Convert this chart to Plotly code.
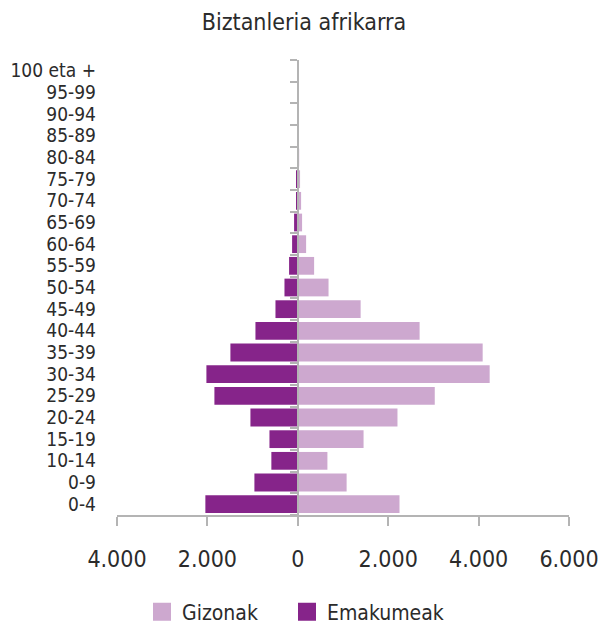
import plotly.graph_objects as go

ages = ["0-4", "0-9", "10-14", "15-19", "20-24", "25-29", "30-34", "35-39",
        "40-44", "45-49", "50-54", "55-59", "60-64", "65-69", "70-74", "75-79",
        "80-84", "85-89", "90-94", "95-99", "100 eta +"]
gizonak = [2250, 1080, 655, 1455, 2205, 3030, 4245, 4090, 2695, 1390, 680,
           361, 184, 95, 73, 50, 30, 0, 0, 0, 0]
emakumeak = [2045, 960, 585, 627, 1048, 1845, 2022, 1491, 937, 494, 295,
             193, 126, 82, 37, 37, 0, 0, 0, 0, 0]
x_tickvals = [-4000, -2000, 0, 2000, 4000, 6000]
x_ticktext = ["4.000", "2.000", "0", "2.000", "4.000", "6.000"]

DARK = "#86248A"
LIGHT = "#CDA8CF"
GRAY = "#B4B4B4"
TXT = "#2B2B2B"
FONT = "DejaVu Sans Condensed, sans-serif"

ypos = list(range(len(ages)))
boundaries = [i - 0.5 for i in range(len(ages) + 1)]

fig = go.Figure()
fig.add_trace(go.Bar(y=ypos, x=gizonak, orientation="h", marker_color=LIGHT,
                     marker_line_width=0, name="Gizonak", showlegend=False))
fig.add_trace(go.Bar(y=ypos, x=[-v for v in emakumeak], orientation="h",
                     marker_color=DARK, marker_line_width=0, name="Emakumeak",
                     showlegend=False))
# legend entries (larger square swatches), one legend box each
for nm, col, lg in [("Gizonak", LIGHT, "legend"), ("Emakumeak", DARK, "legend2")]:
    fig.add_trace(go.Scatter(x=[None], y=[None], mode="markers", name=nm,
                             marker=dict(symbol="square", size=16, color=col,
                                         line=dict(color=col, width=2)),
                             yaxis="y2", legend=lg))

leg_common = dict(orientation="h", xref="container", xanchor="left",
                  y=1 - 612 / 626, yref="container", yanchor="middle",
                  font=dict(size=21, color=TXT), itemsizing="trace",
                  bgcolor="rgba(0,0,0,0)")

fig.update_layout(
    width=608, height=626, autosize=False,
    margin=dict(l=117, r=39, t=60, b=111, autoexpand=False),
    paper_bgcolor="white", plot_bgcolor="white",
    font=dict(family=FONT, color=TXT),
    barmode="relative", bargap=0.18,
    title=dict(text="Biztanleria afrikarra", x=0.5, xref="container",
               y=1 - 22 / 626, yref="container", xanchor="center",
               yanchor="middle", automargin=False,
               font=dict(size=23, color=TXT, family=FONT)),
    xaxis=dict(range=[-4000, 6000], tickmode="array", tickvals=x_tickvals,
               ticktext=x_ticktext, showline=True, linecolor=GRAY, linewidth=1.5,
               ticks="outside", ticklen=9, tickcolor=GRAY, tickwidth=1.5,
               showgrid=False, zeroline=False, tickfont=dict(size=23, color=TXT),
               ticklabelstandoff=14, fixedrange=True, automargin=False),
    yaxis=dict(range=[-0.5, len(ages) - 0.5], tickmode="array", tickvals=ypos,
               ticktext=ages, showline=False, showgrid=False, zeroline=False,
               ticks="", tickfont=dict(size=19, color=TXT),
               ticklabelstandoff=20, fixedrange=True, automargin=False),
    yaxis2=dict(range=[-0.5, len(ages) - 0.5], overlaying="y", anchor="free",
                position=0.4, side="left", tickmode="array", tickvals=boundaries,
                showticklabels=False, showline=True, linecolor=GRAY, linewidth=1.5,
                ticks="outside", ticklen=7, tickcolor=GRAY, tickwidth=1.5,
                showgrid=False, zeroline=False, fixedrange=True, automargin=False),
    legend=dict(x=142 / 608, **leg_common),
    legend2=dict(x=287 / 608, **leg_common),
    showlegend=True,
)

fig.write_html("out.html", config={"displayModeBar": False},
               post_script="document.body.style.margin='0';document.body.style.overflow='hidden';")
